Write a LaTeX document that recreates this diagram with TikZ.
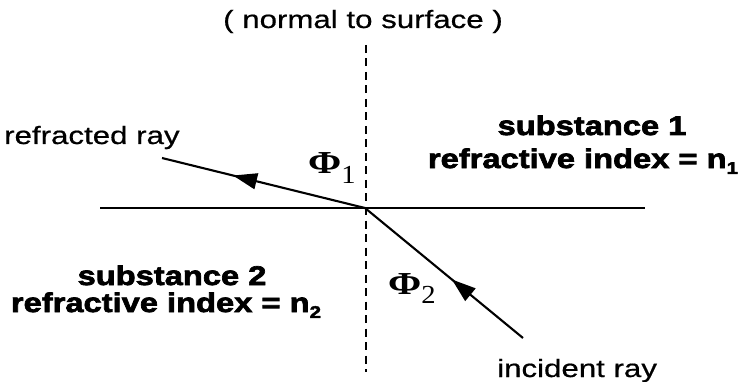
\documentclass[tikz,border=0pt]{standalone}
\usepackage{fontspec}
\usetikzlibrary{arrows.meta,decorations.markings}
\newfontfamily\labfont[FakeStretch=1.25,FakeBold=0.6]{Liberation Sans}
\newfontfamily\heavyfont[FakeStretch=1.21,FakeBold=2.6]{Liberation Sans Bold}
\newfontfamily\phifont[FakeStretch=1.25]{Liberation Serif Bold}
\newfontfamily\subfont[FakeStretch=1.1]{Liberation Serif}
\newcommand\mysubH[1]{\raisebox{-0.22em}{\fontsize{17}{17}\selectfont #1}}
\newcommand\myPhi[1]{{\phifont\fontsize{32}{32}\selectfont Φ\raisebox{-0.3em}{\subfont\fontsize{26}{26}\selectfont #1}}}
\begin{document}
\begin{tikzpicture}[x=1pt,y=-1pt,
  lab/.style={inner sep=0pt,font=\labfont\fontsize{25}{25}\selectfont},
  heavy/.style={inner sep=0pt,font=\heavyfont\fontsize{27}{27}\selectfont},
  phil/.style={inner sep=0pt,anchor=base west},
  ray/.style={line width=2.1pt},
  tipmark/.style={postaction={decorate},decoration={markings,
     mark=at position #1 with {\arrow{Triangle[length=24pt,width=16pt]}}}}
  ]
\useasboundingbox (0,0) rectangle (741,382);
% geometry
\coordinate (O) at (365,208);
\coordinate (SL) at (100,208);
\coordinate (SR) at (645,208);
\coordinate (NT) at (366,45);
\coordinate (NB) at (366,372);
\coordinate (R) at (162,158);
\coordinate (I) at (523,338);
% surface and normal
\draw[line width=1.9pt] (SL) -- (SR);
\draw[line width=2pt,dash pattern=on 8pt off 5.5pt] (NT) -- (NB);
% rays
\draw[ray,tipmark=0.65] (O) -- (R);
\draw[ray,tipmark=0.45] (I) -- (O);
% labels
\node[lab,anchor=base] (normal) at (363,28) {( normal to surface )};
\node[lab,anchor=base west] (refr) at (4,144) {refracted ray};
\node[lab,anchor=base west] (inc) at (497,377) {incident ray};
\node[phil] (phi1) at (308,174) {\myPhi{1}};
\node[phil] (phi2) at (388,294) {\myPhi{2}};
\node[heavy,anchor=base] (s1) at (592,135) {substance 1};
\node[heavy,anchor=base] (n1) at (583,168) {refractive index = n\mysubH{1}};
\node[heavy,anchor=base] (s2) at (172,285) {substance 2};
\node[heavy,anchor=base] (n2) at (166,312) {refractive index = n\mysubH{2}};
\end{tikzpicture}
\end{document}
